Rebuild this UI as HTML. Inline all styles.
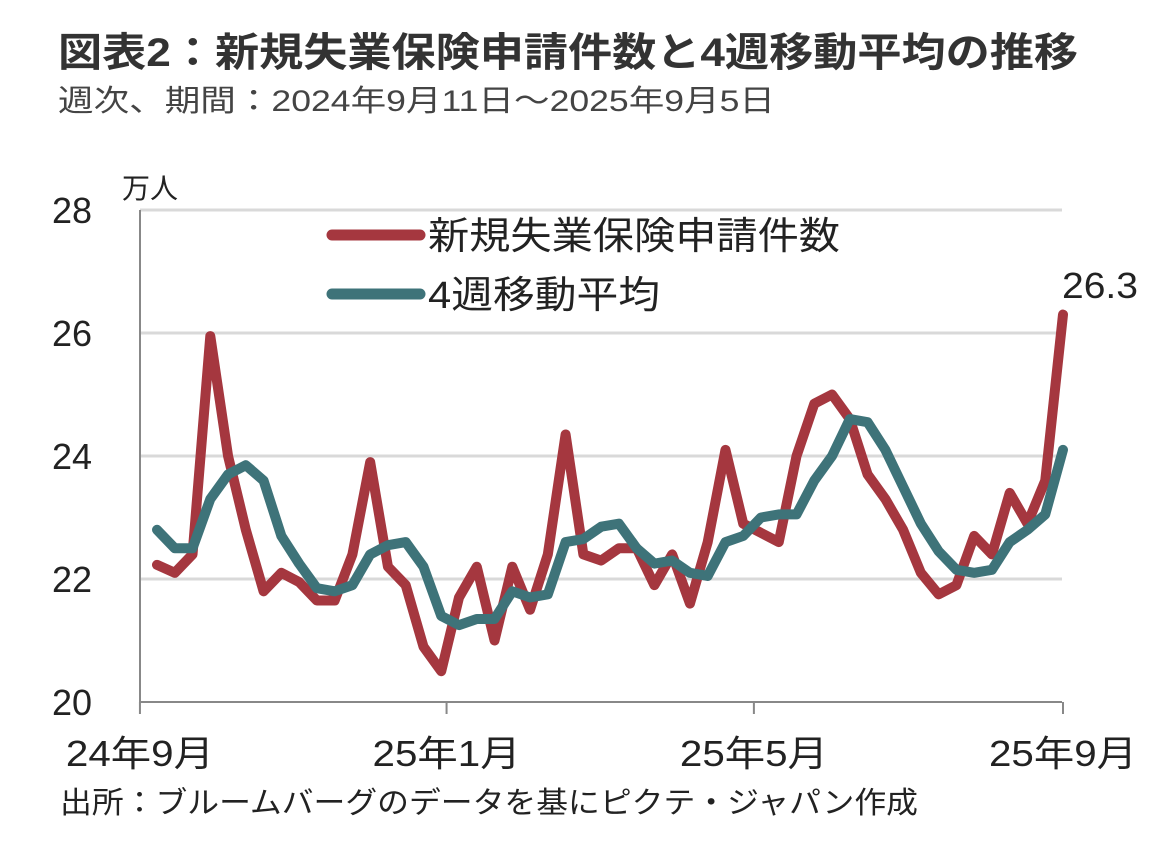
<!DOCTYPE html>
<html><head><meta charset="utf-8">
<style>
body{margin:0;background:#fff;}
svg{display:block;font-family:"Liberation Sans","Noto Sans CJK JP",sans-serif;}
</style></head>
<body>
<svg id="chart" width="1174" height="845" viewBox="0 0 1174 845" xmlns="http://www.w3.org/2000/svg">
<text x="58" y="66" font-size="40" font-weight="bold" fill="#333" textLength="1020" lengthAdjust="spacingAndGlyphs">図表2：新規失業保険申請件数と4週移動平均の推移</text>
<text x="58" y="111" font-size="30" fill="#444" textLength="717" lengthAdjust="spacingAndGlyphs">週次、期間：2024年9月11日～2025年9月5日</text>
<text x="122" y="198" font-size="28" fill="#222">万人</text>
<g id="grid"></g>
<g id="axes"></g>
<g id="series"></g>
<g>
<line x1="332" y1="235" x2="420" y2="235" stroke="#a5373f" stroke-width="11" stroke-linecap="round"/>
<text x="428" y="249" font-size="38" fill="#222" textLength="412" lengthAdjust="spacingAndGlyphs">新規失業保険申請件数</text>
<line x1="332" y1="294" x2="420" y2="294" stroke="#3e7379" stroke-width="11" stroke-linecap="round"/>
<text x="428" y="308" font-size="38" fill="#222" textLength="232" lengthAdjust="spacingAndGlyphs">4週移動平均</text>
</g>
<text x="1062" y="298" font-size="36" fill="#222" textLength="76" lengthAdjust="spacingAndGlyphs">26.3</text>
<text x="60" y="813" font-size="30" fill="#222" textLength="858" lengthAdjust="spacingAndGlyphs">出所：ブルームバーグのデータを基にピクテ・ジャパン作成</text>
</svg>
<script>
const claims=[22.23,22.1,22.4,25.95,24.0,22.8,21.8,22.1,21.95,21.65,21.65,22.4,23.9,22.2,21.9,20.9,20.5,21.7,22.2,21.0,22.2,21.5,22.4,24.35,22.4,22.3,22.5,22.5,21.9,22.4,21.6,22.6,24.1,22.9,22.75,22.6,24.0,24.85,25.0,24.6,23.7,23.3,22.8,22.1,21.75,21.9,22.7,22.4,23.4,22.9,23.6,26.3];
const movingAvg=[22.8,22.5,22.5,23.3,23.7,23.85,23.6,22.7,22.25,21.85,21.8,21.9,22.4,22.55,22.6,22.2,21.4,21.25,21.35,21.35,21.8,21.7,21.75,22.6,22.65,22.85,22.9,22.5,22.25,22.3,22.1,22.05,22.6,22.7,23.0,23.05,23.05,23.6,24.0,24.6,24.55,24.1,23.5,22.9,22.45,22.15,22.1,22.15,22.6,22.8,23.05,24.1];
const yTicks=[20,22,24,26,28];
const xTickLabels=["24年9月","25年1月","25年5月","25年9月"];
const xTickWeeks=[-0.96,16.3,33.6,51];
const NS="http://www.w3.org/2000/svg";
const X0=157,X1=1063,Y0=702,Y1=210,YMIN=20,YMAX=28,N=claims.length;
function xs(i){return X0+(X1-X0)*i/(N-1);}
function ys(v){return Y0-(v-YMIN)/(YMAX-YMIN)*(Y0-Y1);}
function mk(t,a,p){const e=document.createElementNS(NS,t);for(const k in a)e.setAttribute(k,a[k]);p.appendChild(e);return e;}
const grid=document.getElementById('grid'),axes=document.getElementById('axes'),ser=document.getElementById('series');
yTicks.forEach(v=>{
 if(v>YMIN){const g=mk('line',{x1:140,x2:1062,y1:ys(v),y2:ys(v),stroke:'#d9d9d9','stroke-width':3},grid);
 
 }
 const t=mk('text',{x:92,y:ys(v)+13,'font-size':36,fill:'#222','text-anchor':'end'},axes);
 t.textContent=v;
 
 
});
const ya=mk('line',{x1:140,x2:140,y1:Y1,y2:Y0,stroke:'#888','stroke-width':2},axes);


const xa=mk('line',{x1:140,x2:1062,y1:Y0,y2:Y0,stroke:'#888','stroke-width':2},axes);


xTickLabels.forEach((lab,k)=>{
 const x=xs(xTickWeeks[k]);
 const tk=mk('line',{x1:x,x2:x,y1:Y0,y2:Y0+12,stroke:'#888','stroke-width':2},axes);
 
 
 const t=mk('text',{x:x,y:Y0+64,'font-size':36,fill:'#222','text-anchor':'middle',textLength:148,lengthAdjust:'spacingAndGlyphs'},axes);
 t.textContent=lab;
 
 
});
function line(data,color,name){
 const p=mk('polyline',{points:data.map((v,i)=>xs(i)+','+ys(v)).join(' '),fill:'none',stroke:color,'stroke-width':10,'stroke-linejoin':'round','stroke-linecap':'round'},ser);
 
 
}
line(claims,'#a5373f','claims-line');
line(movingAvg,'#3e7379','moving-average-line');
</script>
</body></html>
